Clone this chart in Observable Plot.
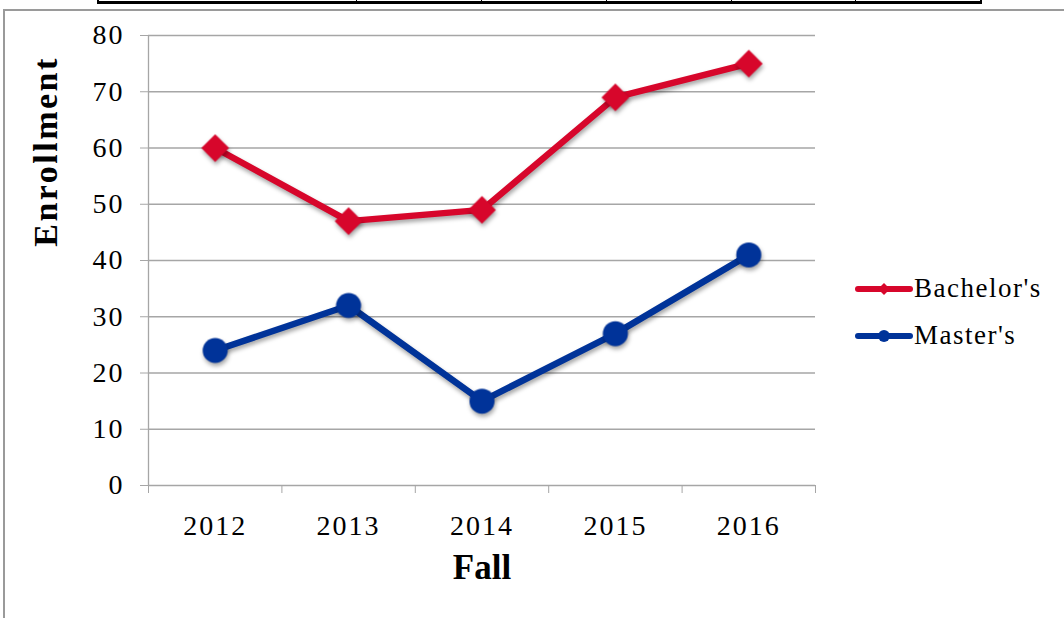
<!DOCTYPE html>
<html><head><meta charset="utf-8">
<script src="https://cdn.jsdelivr.net/npm/d3@7"></script>
<script src="https://cdn.jsdelivr.net/npm/@observablehq/plot@0.6"></script>
<style>
html,body{margin:0;padding:0;background:#fff;}
body{width:1064px;height:618px;overflow:hidden;position:relative;font-family:"Liberation Serif",serif;}
#chart{position:absolute;left:0;top:0;}
.frame-left{position:absolute;left:3px;top:9px;width:2px;height:609px;background:#9a9a9a;}
.frame-top{position:absolute;left:3px;top:9px;width:1061px;height:2px;background:#9a9a9a;}
.table-top{position:absolute;left:97px;top:-2px;width:881px;height:3px;border:2px solid #000;border-top:none;border-bottom-width:3px;}
.table-top .div{position:absolute;top:0;width:1px;height:4px;background:#000;}
g[aria-label="line"], g[aria-label="dot"]{filter:drop-shadow(1px 3px 2px rgba(0,0,0,0.35));}
#legend{position:absolute;left:855px;top:265px;font-family:"Liberation Serif",serif;font-size:27px;color:#000;}
#legend .row{display:flex;align-items:center;height:47px;letter-spacing:1.5px;}
#legend svg{margin-right:1px;}
</style></head><body>
<div class="frame-top"></div>
<div class="frame-left"></div>
<div class="table-top" id="tabletop"></div>
<div id="chart"></div>
<div id="legend"></div>
<script>
const years = [2012, 2013, 2014, 2015, 2016];
const bachelors = [60, 47, 49, 69, 75];
const masters = [24, 32, 15, 27, 41];
const yTicks = [0, 10, 20, 30, 40, 50, 60, 70, 80];
const seriesNames = ["Bachelor's", "Master's"];
const seriesColors = ["#d7062b", "#003399"];
const seriesSymbols = ["diamond2", "circle"];
const xTitle = "Fall";
const yTitle = "Enrollment";
const tableDividers = [356, 481, 606, 731, 855];

// top table decoration dividers
const tt = document.getElementById("tabletop");
tableDividers.forEach(x => { const d = document.createElement("div"); d.className = "div"; d.style.left = (x - 97 - 2) + "px"; tt.appendChild(d); });

const data = [];
years.forEach((yr, i) => {
  data.push({year: yr, value: bachelors[i], series: seriesNames[0]});
  data.push({year: yr, value: masters[i], series: seriesNames[1]});
});
const boundaries = d3.range(years.length + 1).map(i => years[0] - 0.5 + i);
const grid = "#a6a6a6";

const plot = Plot.plot({
  width: 1064, height: 618,
  marginLeft: 148, marginRight: 249, marginTop: 35, marginBottom: 133,
  style: {fontFamily: "Liberation Serif", background: "transparent", overflow: "visible", color: "#000"},
  x: {type: "linear", domain: [boundaries[0], boundaries[boundaries.length - 1]]},
  y: {domain: [0, 80]},
  color: {domain: seriesNames, range: seriesColors},
  marks: [
    Plot.gridY(yTicks, {stroke: grid, strokeOpacity: 1, strokeWidth: 1.3}),
    Plot.ruleX([boundaries[0]], {stroke: grid, strokeWidth: 1.3}),
    Plot.axisY({ticks: yTicks, tickSize: 8, tickPadding: 16, fontSize: 28, label: null, stroke: grid, fill: "#000", tickFormat: d => String(d)}),
    Plot.axisX({ticks: boundaries, tickSize: 8, tickFormat: () => "", label: null, stroke: grid}),
    Plot.axisX({ticks: years, tickSize: 0, tickPadding: 30, fontSize: 28, label: null, fill: "#000", tickFormat: d => String(d)}),
    Plot.line(data, {x: "year", y: "value", z: "series", stroke: "series", strokeWidth: 6.5}),
    Plot.dot(data.filter(d => d.series === seriesNames[0]), {x: "year", y: "value", symbol: () => seriesSymbols[0], r: 12.5, fill: seriesColors[0], stroke: "none"}),
    Plot.dot(data.filter(d => d.series === seriesNames[1]), {x: "year", y: "value", symbol: () => seriesSymbols[1], r: 12.5, fill: seriesColors[1], stroke: "none"}),
    Plot.text([yTitle], {text: d => d, frameAnchor: "top-left", rotate: -90, dx: -116, dy: 116, fontSize: 34, fontWeight: "bold", fill: "#000", textAnchor: "middle"}),
    Plot.text([xTitle], {text: d => d, frameAnchor: "bottom", dy: 93, fontSize: 35, fontWeight: "bold", fill: "#000", textAnchor: "middle"})
  ]
});
document.getElementById("chart").appendChild(plot);

// letter spacing to approximate the wider original typeface
const svgSel = d3.select(plot);
svgSel.selectAll('g[aria-label="y-axis tick label"] text, g[aria-label="x-axis tick label"] text').style("letter-spacing", "2px");
svgSel.selectAll('g[aria-label="text"] text').each(function() {
  const t = this.textContent;
  if (t === yTitle) this.style.letterSpacing = "2.5px";
});

// legend
const legend = document.getElementById("legend");
seriesNames.forEach((name, i) => {
  const row = document.createElement("div");
  row.className = "row";
  const svg = d3.create("svg").attr("width", 58).attr("height", 20);
  svg.append("line").attr("x1", 3).attr("x2", 55).attr("y1", 10).attr("y2", 10)
    .attr("stroke", seriesColors[i]).attr("stroke-width", 6).attr("stroke-linecap", "round");
  const sym = seriesSymbols[i] === "circle" ? d3.symbolCircle : d3.symbolDiamond2;
  svg.append("path").attr("d", d3.symbol(sym, seriesSymbols[i] === "circle" ? 110 : 90)()).attr("transform", "translate(29,10)").attr("fill", seriesColors[i]);
  row.appendChild(svg.node());
  const span = document.createElement("span");
  span.textContent = name;
  row.appendChild(span);
  legend.appendChild(row);
});
</script>
</body></html>
